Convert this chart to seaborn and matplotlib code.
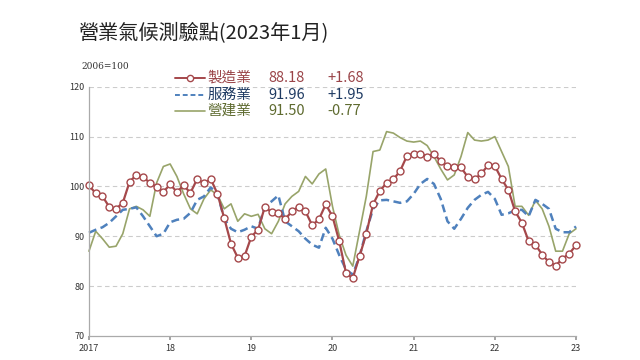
import matplotlib
matplotlib.use("Agg")
import matplotlib.pyplot as plt
import seaborn as sns
import numpy as np
import pandas as pd

# monthly index, Jan 2017 .. Jan 2023 (2006=100)
manufacturing = [100.2, 98.6, 98.0, 95.9, 95.5, 96.7, 100.9, 102.3, 101.9, 100.7, 99.9, 98.9,
                 100.4, 98.9, 100.2, 98.7, 101.5, 100.6, 101.5, 98.5, 93.6, 88.5, 85.7, 86.0,
                 89.9, 91.3, 95.9, 94.8, 94.7, 93.4, 95.0, 95.9, 95.0, 92.2, 93.4, 96.4,
                 94.0, 89.0, 82.6, 81.6, 86.0, 90.5, 96.4, 99.1, 100.7, 101.4, 103.1, 106.1,
                 106.6, 106.6, 106.0, 106.6, 105.0, 104.0, 103.8, 103.8, 101.9, 101.4, 102.6, 104.2,
                 104.1, 101.5, 99.3, 95.0, 92.7, 89.0, 88.3, 86.3, 84.8, 84.1, 85.5, 86.5,
                 88.18]
services = [90.7, 91.3, 91.8, 92.7, 94.0, 95.3, 95.5, 95.8, 94.0, 92.0, 90.0, 90.5,
            92.8, 93.3, 93.5, 94.7, 97.3, 98.0, 99.8, 98.5, 93.5, 91.5, 90.8, 91.3,
            92.0, 91.5, 96.0, 97.0, 98.2, 93.0, 92.0, 91.0, 89.5, 88.3, 87.7, 91.7,
            89.5, 86.2, 83.3, 82.3, 86.0, 91.0, 95.5, 97.2, 97.3, 97.0, 96.7, 97.0,
            98.5, 100.5, 101.5, 100.5, 97.5, 93.0, 91.5, 93.5, 95.7, 97.3, 98.3, 98.9,
            97.5, 94.3, 94.6, 95.2, 95.3, 94.0, 97.3, 96.5, 95.5, 91.5, 90.8, 90.8,
            91.96]
construction = [87.0, 91.0, 89.5, 87.8, 88.0, 90.5, 95.5, 96.0, 95.3, 94.0, 100.7, 104.0,
                104.5, 102.0, 98.5, 95.5, 94.5, 97.5, 99.3, 98.3, 95.5, 96.5, 93.0, 94.5,
                94.0, 94.4, 91.5, 90.5, 93.0, 96.5, 98.0, 99.0, 102.0, 100.5, 102.5, 103.5,
                96.0, 90.2, 86.2, 84.0, 91.0, 98.0, 107.0, 107.3, 111.0, 110.7, 109.8, 109.1,
                108.9, 109.1, 108.2, 106.0, 103.5, 101.3, 102.3, 106.0, 110.8, 109.3, 109.1, 109.3,
                110.0, 107.0, 104.0, 96.0, 96.0, 94.2, 97.2, 95.5, 92.0, 87.0, 87.0, 90.5,
                91.5]

series_names = ["製造業", "服務業", "營建業"]
latest = ["88.18", "91.96", "91.50"]
changes = ["+1.68", "+1.95", "-0.77"]
year_ticks = [2017, 2018, 2019, 2020, 2021, 2022, 2023]
year_labels = ["2017", "18", "19", "20", "21", "22", "23"]
y_ticks = [70, 80, 90, 100, 110, 120]

red = "#a5484b"
blue = "#4f81bd"
olive = "#98a46a"
text_cols = ["#9a4448", "#1f3b63", "#5f6b30"]

sns.set_theme(style="white")
plt.rcParams['font.family'] = ['Noto Sans CJK TC', 'DejaVu Sans']

x = 2017 + np.arange(len(manufacturing)) / 12.0
df = pd.DataFrame({"x": x, "製造業": manufacturing, "服務業": services, "營建業": construction})

fig = plt.figure(figsize=(6.4, 3.6), dpi=100)
ax = fig.add_axes([0.139, 0.067, 0.761, 0.692])

sns.lineplot(data=df, x="x", y="營建業", ax=ax, color=olive, linewidth=1.2, clip_on=False)
sns.lineplot(data=df, x="x", y="服務業", ax=ax, color=blue, linewidth=1.8,
             linestyle=(0, (3.2, 1.8)), clip_on=False)
sns.lineplot(data=df, x="x", y="製造業", ax=ax, color=red, linewidth=1.6, marker="o",
             markersize=5, markerfacecolor="white", markeredgecolor=red,
             markeredgewidth=1.0, clip_on=False)

ax.set_xlim(2017, 2023)
ax.set_ylim(70, 120)
ax.set_xticks(year_ticks)
ax.set_xticklabels(year_labels)
ax.set_yticks(y_ticks)
ax.set_xlabel("")
ax.set_ylabel("")
ax.tick_params(axis="both", labelsize=6.5, colors="#333333", length=0, pad=3)
ax.tick_params(axis="x", length=3, color="#999999", direction="out", bottom=True)
for yv in y_ticks[1:]:
    ax.axhline(yv, color="#cccccc", linewidth=0.8, linestyle=(0, (4, 3)), zorder=0)
for s in ["top", "right"]:
    ax.spines[s].set_visible(False)
for s in ["left", "bottom"]:
    ax.spines[s].set_color("#aaaaaa")
    ax.spines[s].set_linewidth(0.9)

fig.text(0.122, 0.91, "營業氣候測驗點(2023年1月)", fontsize=14.5, color="#222222",
         va="center", ha="left")
fig.text(0.127, 0.815, "2006=100", fontsize=6.5, color="#333333", va="center",
         family=["DejaVu Serif"])

# hand-made legend block
rows_y = [0.784, 0.736, 0.692]
styles = [dict(color=red, linewidth=1.4), dict(color=blue, linewidth=1.4, linestyle=(0, (2.5, 1.5))),
          dict(color=olive, linewidth=1.2)]
for i in range(3):
    fig.add_artist(plt.Line2D([0.273, 0.321], [rows_y[i], rows_y[i]],
                              transform=fig.transFigure, **styles[i]))
    if i == 0:
        fig.add_artist(plt.Line2D([0.297], [rows_y[i]], transform=fig.transFigure,
                                  marker="o", markersize=4.5, markerfacecolor="white",
                                  markeredgecolor=red, markeredgewidth=1.0))
    fig.text(0.324, rows_y[i], series_names[i], fontsize=10.5, color=text_cols[i], va="center")
    fig.text(0.419, rows_y[i], latest[i], fontsize=10.5, color=text_cols[i], va="center")
    fig.text(0.512, rows_y[i], changes[i], fontsize=10.5, color=text_cols[i], va="center")

fig.savefig("out.png", dpi=100, facecolor="white")
